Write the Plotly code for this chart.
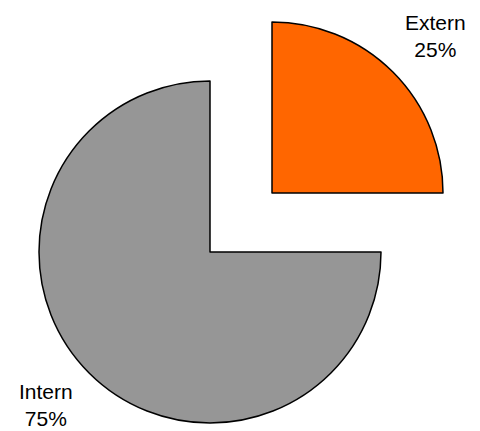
import plotly.graph_objects as go

labels = ["Extern", "Intern"]
values = [25, 75]
colors = ["#FF6600", "#969696"]

W, H = 480, 431
R = 171
total = sum(values)
texts = [f"{l}<br>{round(100 * v / total)}%" for l, v in zip(labels, values)]
FONT = dict(family="Liberation Sans, Arial, sans-serif", size=21, color="black")


def dom(cx, cy):
    # cx, cy in pixels from top-left
    cyb = H - cy
    return dict(x=[(cx - R) / W, (cx + R) / W], y=[(cyb - R) / H, (cyb + R) / H])


fig = go.Figure()
# main (not pulled) slice
fig.add_trace(go.Pie(
    labels=labels, values=values, sort=False, direction="clockwise", rotation=0,
    domain=dom(210, 252),
    marker=dict(colors=["rgba(0,0,0,0)", colors[1]],
                line=dict(color=["rgba(0,0,0,0)", "black"], width=[0, 1.5])),
    textinfo="none", showlegend=False, hoverinfo="label+percent",
))
# exploded slice
fig.add_trace(go.Pie(
    labels=labels, values=values, sort=False, direction="clockwise", rotation=0,
    domain=dom(272, 193),
    marker=dict(colors=[colors[0], "rgba(0,0,0,0)"],
                line=dict(color=["black", "rgba(0,0,0,0)"], width=[1.5, 0])),
    textinfo="none", showlegend=False, hoverinfo="label+percent",
))

label_pos = [(435, 36), (46, 405)]  # pixel centres of the label blocks
for t, (px, py) in zip(texts, label_pos):
    fig.add_annotation(
        x=px / W, y=(H - py) / H, xref="paper", yref="paper",
        text=t, showarrow=False, font=FONT, align="center",
        xanchor="center", yanchor="middle",
    )

fig.update_layout(
    width=W, height=H, margin=dict(l=0, r=0, t=0, b=0),
    paper_bgcolor="white", plot_bgcolor="white", showlegend=False,
)
fig.write_html("out.html")
